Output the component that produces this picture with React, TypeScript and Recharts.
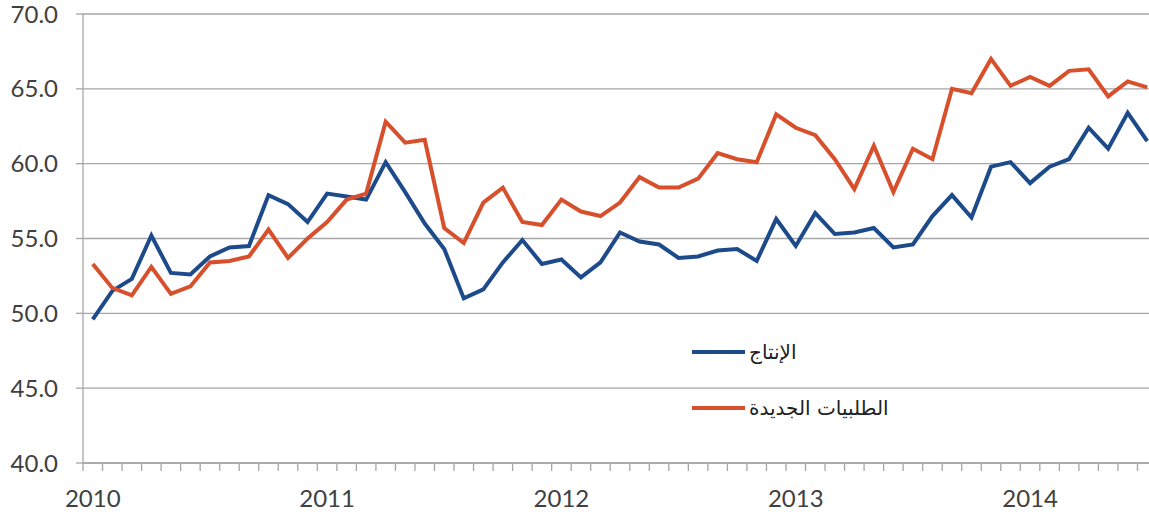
import React from 'react';
import { LineChart, Line, XAxis, YAxis, CartesianGrid, Legend } from 'recharts';

// monthly readings, Jan 2010 .. Jul 2014
const years = ['2010', '2011', '2012', '2013', '2014'];

const production = [
  49.6, 51.5, 52.3, 55.2, 52.7, 52.6, 53.8, 54.4, 54.5, 57.9, 57.3, 56.1,
  58.0, 57.8, 57.6, 60.1, 58.1, 56.0, 54.3, 51.0, 51.6, 53.4, 54.9, 53.3,
  53.6, 52.4, 53.4, 55.4, 54.8, 54.6, 53.7, 53.8, 54.2, 54.3, 53.5, 56.3,
  54.5, 56.7, 55.3, 55.4, 55.7, 54.4, 54.6, 56.5, 57.9, 56.4, 59.8, 60.1,
  58.7, 59.8, 60.3, 62.4, 61.0, 63.4, 61.5,
];

const newOrders = [
  53.3, 51.7, 51.2, 53.1, 51.3, 51.8, 53.4, 53.5, 53.8, 55.6, 53.7, 55.0,
  56.1, 57.6, 58.0, 62.8, 61.4, 61.6, 55.7, 54.7, 57.4, 58.4, 56.1, 55.9,
  57.6, 56.8, 56.5, 57.4, 59.1, 58.4, 58.4, 59.0, 60.7, 60.3, 60.1, 63.3,
  62.4, 61.9, 60.3, 58.3, 61.2, 58.1, 61.0, 60.3, 65.0, 64.7, 67.0, 65.2,
  65.8, 65.2, 66.2, 66.3, 64.5, 65.5, 65.1,
];

const yTicks = [40, 45, 50, 55, 60, 65, 70];

const months = years
  .flatMap((y) => ['01', '02', '03', '04', '05', '06', '07', '08', '09', '10', '11', '12'].map((m) => `${y}-${m}`))
  .slice(0, production.length);

const data = months.map((month, i) => ({
  i,
  month,
  production: production[i],
  orders: newOrders[i],
}));

// tick marks sit between months, year labels sit on January
const monthTicks = [...data.map((d) => d.i - 0.5), data.length - 0.5];
const yearTicks = data.filter((d) => d.month.endsWith('-01')).map((d) => d.i);

const BLUE = '#1c4a8a';
const ORANGE = '#d84f2c';
const GRID = '#a6a6a6';
const TEXT = '#404040';

const renderLegend = (props: any) => {
  const { payload } = props;
  return (
    <div style={{ display: 'flex', flexDirection: 'column' }}>
      {payload.map((entry: any) => (
        <div key={entry.value} style={{ display: 'flex', alignItems: 'center', height: 56 }}>
          <span style={{ display: 'inline-block', width: 53, height: 4, background: entry.color, marginRight: 4 }} />
          <span dir="rtl" style={{ fontFamily: 'DejaVu Sans', fontSize: 20, color: '#222' }}>
            {entry.value}
          </span>
        </div>
      ))}
    </div>
  );
};

const App: React.FC = () => {
  return (
    <div style={{ position: 'fixed', left: 0, top: 0, width: 1149, height: 516, overflow: 'hidden', background: '#fff' }}>
      <LineChart width={1160} height={516} data={data} margin={{ top: 14, right: 3, left: 0, bottom: 0 }}>
        <CartesianGrid xAxisId="m" vertical={false} stroke={GRID} strokeWidth={1.3} />
        <XAxis
          xAxisId="m"
          dataKey="i"
          type="number"
          domain={[-0.5, data.length - 0.5]}
          ticks={monthTicks}
          interval={0}
          tickFormatter={() => ''}
          tickSize={8}
          height={10}
          stroke={GRID}
          strokeWidth={1.3}
        />
        <XAxis
          xAxisId="y"
          dataKey="i"
          type="number"
          domain={[-0.5, data.length - 0.5]}
          ticks={yearTicks}
          interval={0}
          tickFormatter={(v: number) => months[v].slice(0, 4)}
          axisLine={false}
          tickLine={false}
          tickSize={0}
          tickMargin={17}
          height={43}
          tick={{ fill: TEXT, fontSize: 24, fontFamily: 'Lato' }}
        />
        <YAxis
          domain={[40, 70]}
          ticks={yTicks}
          interval={0}
          width={83}
          tickSize={7}
          tickMargin={18}
          tickFormatter={(v: number) => v.toFixed(1)}
          tick={{ fill: TEXT, fontSize: 24, fontFamily: 'Lato' }}
          stroke={GRID}
          strokeWidth={1.3}
        />
        <Legend
          layout="vertical"
          align="center"
          verticalAlign="middle"
          content={renderLegend}
          wrapperStyle={{ position: 'absolute', left: 692, top: 324, width: 230 }}
        />
        <Line
          xAxisId="m"
          type="linear"
          dataKey="production"
          name="الإنتاج"
          stroke={BLUE}
          strokeWidth={4}
          dot={false}
          isAnimationActive={false}
        />
        <Line
          xAxisId="m"
          type="linear"
          dataKey="orders"
          name="الطلبيات الجديدة"
          stroke={ORANGE}
          strokeWidth={4}
          dot={false}
          isAnimationActive={false}
        />
      </LineChart>
    </div>
  );
};

export default App;
